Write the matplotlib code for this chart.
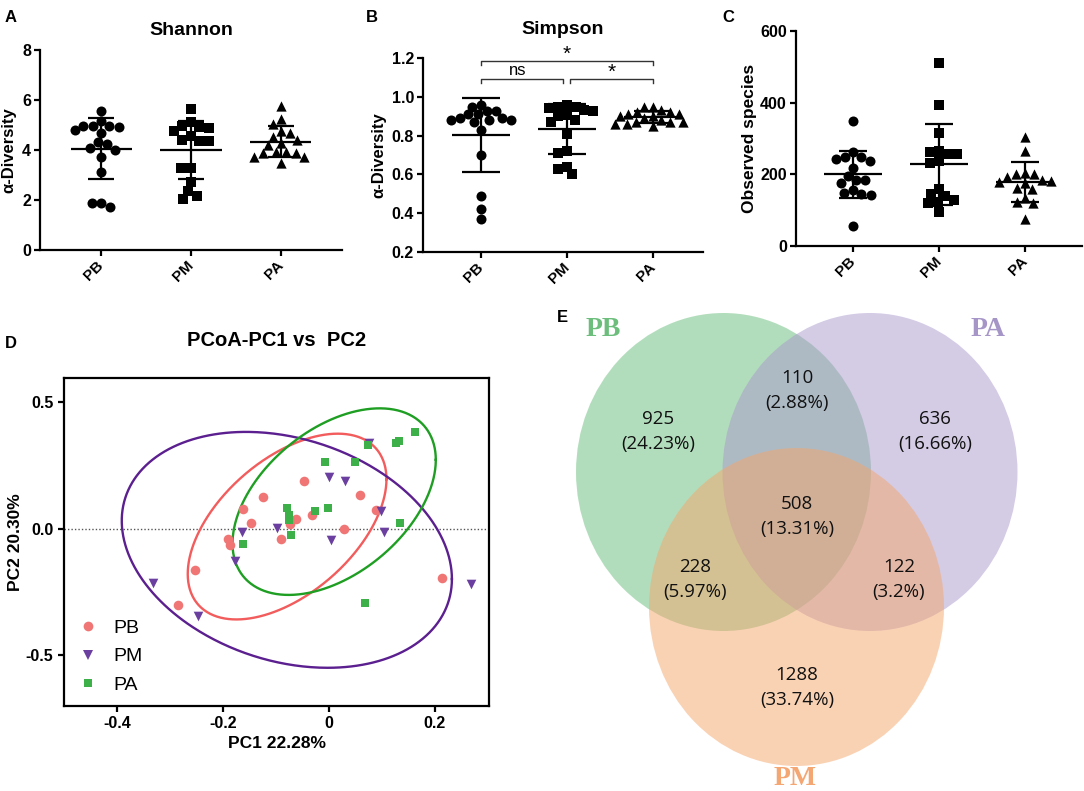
import numpy as np
import matplotlib
matplotlib.use("Agg")
import matplotlib.pyplot as plt
from matplotlib.patches import Ellipse
from matplotlib.lines import Line2D

plt.rcParams['font.family'] = ['Liberation Sans', 'DejaVu Sans']

groups = ["PB", "PM", "PA"]

# ---------------- alpha diversity data ----------------
shannon_pb = [5.56, 5.16, 4.96, 4.96, 4.96, 4.92, 4.80, 4.67, 4.31, 4.23, 4.09, 4.00, 3.73, 3.11, 1.87, 1.73, 1.87]
shannon_pm = [5.64, 4.97, 4.89, 4.93, 5.13, 4.57, 4.77, 4.36, 4.36, 4.40, 3.27, 3.27, 2.73, 2.36, 2.04, 2.17]
shannon_pa = [5.76, 5.24, 5.03, 4.53, 4.67, 4.76, 4.27, 4.40, 4.20, 3.93, 3.87, 3.73, 3.73, 3.87, 3.93, 3.49]

simpson_pb = [0.95, 0.925, 0.91, 0.96, 0.91, 0.925, 0.89, 0.88, 0.88, 0.89, 0.88, 0.83, 0.70, 0.49, 0.42, 0.37, 0.87]
simpson_pm = [0.96, 0.95, 0.95, 0.925, 0.905, 0.93, 0.94, 0.88, 0.87, 0.81, 0.72, 0.71, 0.64, 0.60, 0.63, 0.90]
simpson_pa = [0.95, 0.95, 0.93, 0.92, 0.91, 0.91, 0.90, 0.90, 0.89, 0.88, 0.87, 0.87, 0.87, 0.86, 0.86, 0.85, 0.92]

observed_pb = [349, 249, 242, 237, 249, 261, 196, 184, 184, 217, 177, 156, 144, 142, 149, 57]
observed_pm = [510, 393, 316, 263, 256, 256, 266, 233, 238, 145, 139, 158, 124, 121, 128, 94]
observed_pa = [305, 266, 200, 203, 200, 192, 177, 181, 184, 180, 158, 163, 124, 135, 119, 75]

# significance annotations for Simpson
sig_pairs = [(0, 2), (0, 1), (1, 2)]
sig_labels = ["*", "ns", "*"]

# ---------------- PCoA data ----------------
pb_pc1 = [-0.047, -0.125, -0.162, -0.147, -0.190, -0.186, -0.090, -0.073, -0.063, -0.032, 0.028, 0.058, 0.088, -0.253, -0.284, 0.213]
pb_pc2 = [0.190, 0.124, 0.079, 0.022, -0.041, -0.063, -0.040, 0.018, 0.040, 0.055, 0.000, 0.135, 0.075, -0.162, -0.301, -0.195]
pm_pc1 = [0.076, 0.001, 0.031, 0.098, 0.104, 0.003, -0.098, -0.165, -0.177, -0.332, -0.247, 0.268]
pm_pc2 = [0.339, 0.204, 0.190, 0.071, -0.011, -0.044, 0.003, -0.013, -0.127, -0.215, -0.344, -0.219]
pa_pc1 = [0.162, 0.126, 0.132, 0.074, -0.008, 0.050, -0.002, -0.026, -0.080, -0.075, -0.076, -0.071, -0.163, 0.134, 0.068]
pa_pc2 = [0.381, 0.339, 0.348, 0.332, 0.263, 0.263, 0.082, 0.071, 0.082, 0.055, 0.036, -0.026, -0.059, 0.025, -0.294]

# confidence ellipses (PB, PM, PA): centre, half-extents, correlation-like shape
ell_cx = [-0.079, -0.0795, 0.0098]
ell_cy = [0.009, -0.083, 0.1075]
ell_hx = [0.1875, 0.3115, 0.1918]
ell_hy = [0.367, 0.466, 0.3686]
ell_r = [0.51, -0.247, 0.448]

# ---------------- Venn data ----------------
venn_counts = {"PB": 925, "PA": 636, "PM": 1288, "PB&PA": 110, "PB&PM": 228, "PA&PM": 122, "ALL": 508}
venn_pct = {"PB": "24.23%", "PA": "16.66%", "PM": "33.74%", "PB&PA": "2.88%", "PB&PM": "5.97%", "PA&PM": "3.2%", "ALL": "13.31%"}

W, H = 1084, 791
fig = plt.figure(figsize=(W / 100, H / 100), dpi=100)


def add_ax(l, t, r, b):
    return fig.add_axes([l / W, 1 - b / H, (r - l) / W, (b - t) / H])


def swarm_x(ax, xc, vals, d):
    vals = np.asarray(vals, float)
    ypx = ax.transData.transform(np.c_[np.zeros(len(vals)), vals])[:, 1]
    x0 = ax.transData.transform((0, 0))[0]
    x1 = ax.transData.transform((1, 0))[0]
    ppu = x1 - x0
    order = np.argsort(-vals)
    placed = []
    offs = np.zeros(len(vals))
    for i in order:
        y = ypx[i]
        cands = [0.0]
        for px, py in placed:
            dy = abs(py - y)
            if dy < d:
                dx = np.sqrt(d * d - dy * dy)
                cands += [px + dx, px - dx]
        ok = [c for c in cands if all((c - px) ** 2 + (y - py) ** 2 >= d * d - 1e-6 for px, py in placed)]
        best = min(ok, key=lambda c: (abs(c), c))
        placed.append((best, y))
        offs[i] = best
    return xc + offs / ppu


def dot_panel(ax, data, ylim, yticks, ylabel, cap, ms, xlim, d):
    ax.set_xlim(*xlim)
    ax.set_ylim(*ylim)
    markers = ["o", "s", "^"]
    sizes = [ms, ms * 0.85, ms * 1.05]
    for i, vals in enumerate(data):
        vals = np.asarray(vals, float)
        xs = swarm_x(ax, i, vals, d)
        ax.scatter(xs, vals, marker=markers[i], s=sizes[i], color="black", zorder=3, linewidths=0)
        m = vals.mean()
        sd = vals.std(ddof=1)
        ax.hlines(m, i - 0.34, i + 0.34, color="black", lw=1.6, zorder=2)
        ax.vlines(i, m - sd, m + sd, color="black", lw=1.6, zorder=2)
        ax.hlines([m - sd, m + sd], i - cap, i + cap, color="black", lw=1.6, zorder=2)
    ax.set_yticks(yticks)
    ax.set_xticks(range(3))
    ax.set_xticklabels(groups, rotation=45, ha="right", va="center", rotation_mode="anchor",
                       fontsize=11, fontweight="bold")
    for lab in ax.get_yticklabels():
        lab.set_fontweight("bold")
        lab.set_fontsize(11.5)
    ax.spines["top"].set_visible(False)
    ax.spines["right"].set_visible(False)
    for s in ["left", "bottom"]:
        ax.spines[s].set_linewidth(1.6)
    ax.tick_params(width=1.6, length=4.5, direction="out", pad=2)
    ax.tick_params(axis="x", pad=5)
    ax.set_ylabel(ylabel, fontsize=12, fontweight="bold", labelpad=4)


# Panel A
axA = add_ax(40, 50, 342, 250)
dot_panel(axA, [shannon_pb, shannon_pm, shannon_pa], (0, 8), [0, 2, 4, 6, 8], "α-Diversity",
          0.145, 52, (-0.68, 2.68), 9.6)
axA.set_title("Shannon", fontsize=14, fontweight="bold", pad=11)

# Panel B
axB = add_ax(423, 58, 703, 252)
dot_panel(axB, [simpson_pb, simpson_pm, simpson_pa], (0.2, 1.2), [0.2, 0.4, 0.6, 0.8, 1.0, 1.2], "α-Diversity",
          0.22, 52, (-0.674, 2.58), 9.0)
axB.set_yticklabels(["0.2", "0.4", "0.6", "0.8", "1.0", "1.2"])
for lab in axB.get_yticklabels():
    lab.set_fontweight("bold")
    lab.set_fontsize(11.5)
axB.set_title("Simpson", fontsize=14, fontweight="bold", pad=17)
# brackets
br = [(0.0, 2.0, 1.186), (0.0, 0.957, 1.093), (1.035, 2.0, 1.093)]
for (a, b, y), lab in zip(br, sig_labels):
    axB.plot([a, a, b, b], [y - 0.022, y, y, y - 0.022], color="#333333", lw=1.0, clip_on=False)
    if lab == "ns":
        axB.text((a + b) / 2 - 0.05, y + 0.002, lab, ha="center", va="bottom", fontsize=12, clip_on=False)
    else:
        axB.text((a + b) / 2, y - 0.018, lab, ha="center", va="bottom", fontsize=15, clip_on=False)

# Panel C
axC = add_ax(796, 31, 1082, 246)
dot_panel(axC, [observed_pb, observed_pm, observed_pa], (0, 600), [0, 200, 400, 600], "Observed species",
          0.165, 52, (-0.663, 2.66), 9.3)
axC.set_ylabel("Observed species", fontsize=12.5, fontweight="bold", labelpad=2)

# Panel labels
for txt, x, y in [("A", 5, 17), ("B", 366, 17), ("C", 722, 17), ("D", 5, 343), ("E", 557, 317)]:
    fig.text(x / W, 1 - y / H, txt, fontsize=12, fontweight="bold", ha="left", va="center")

# Panel D
axD = add_ax(64, 378, 489, 706)
axD.set_xlim(-0.5, 0.302)
axD.set_ylim(-0.70, 0.596)
axD.axhline(0, color="#555555", lw=1.0, ls=(0, (1, 1.5)), zorder=1)
pt_cols = ["#F07676", "#6B3FA0", "#3DB049"]
ell_cols = ["#F25C5C", "#5B1F8F", "#1E9E22"]
t = np.linspace(0, 2 * np.pi, 500)
for i in range(3):
    psi = np.arccos(ell_r[i])
    ex = ell_cx[i] + ell_hx[i] * np.cos(t)
    ey = ell_cy[i] + ell_hy[i] * np.cos(t - psi)
    axD.plot(ex, ey, color=ell_cols[i], lw=1.7, zorder=2)
axD.scatter(pb_pc1, pb_pc2, marker="o", s=48, color=pt_cols[0], linewidths=0, zorder=3)
axD.scatter(pm_pc1, pm_pc2, marker="v", s=48, color=pt_cols[1], linewidths=0, zorder=3)
axD.scatter(pa_pc1, pa_pc2, marker="s", s=40, color=pt_cols[2], linewidths=0, zorder=3)
handles = [Line2D([], [], marker="o", ls="", color=pt_cols[0], markersize=7, markeredgewidth=0),
           Line2D([], [], marker="v", ls="", color=pt_cols[1], markersize=7, markeredgewidth=0),
           Line2D([], [], marker="s", ls="", color=pt_cols[2], markersize=6.3, markeredgewidth=0)]
axD.legend(handles, groups, loc="lower left", bbox_to_anchor=(-0.022, -0.022), frameon=False, fontsize=14,
           handletextpad=0.6, labelspacing=0.55, borderpad=0.5, handlelength=1.4)
axD.set_xticks([-0.4, -0.2, 0, 0.2])
axD.set_xticklabels(["-0.4", "-0.2", "0", "0.2"])
axD.set_yticks([-0.5, 0, 0.5])
axD.set_yticklabels(["-0.5", "0.0", "0.5"])
for lab in axD.get_xticklabels() + axD.get_yticklabels():
    lab.set_fontweight("bold")
    lab.set_fontsize(11.5)
for s in axD.spines.values():
    s.set_linewidth(1.6)
axD.tick_params(width=1.6, length=4.5, direction="out", pad=3)
axD.set_xlabel("PC1 22.28%", fontsize=12.5, fontweight="bold", labelpad=3)
axD.set_ylabel("PC2 20.30%", fontsize=12.5, fontweight="bold", labelpad=2)
axD.set_title("PCoA-PC1 vs  PC2", fontsize=14.5, fontweight="bold", pad=23)

# Panel E (Venn)
axE = add_ax(520, 300, 1084, 791)
axE.set_xlim(520, 1084)
axE.set_ylim(791, 300)
axE.axis("off")
circ = {"PB": ((723.5, 472), "#67BD7A"), "PA": ((870, 472), "#AA98CC"), "PM": ((796.5, 607), "#F5A66B")}
for k in ["PB", "PA", "PM"]:
    (cx, cy), col = circ[k]
    axE.add_patch(Ellipse((cx, cy), 295, 318, facecolor=col, alpha=0.5, edgecolor="none"))
label_pos = {"PB": (603, 330, "#6DBE7D"), "PA": (988, 330, "#A696C8"), "PM": (795, 779, "#F4A673")}
for k, (x, y, c) in label_pos.items():
    axE.text(x, y, k, color=c, fontsize=20, fontweight="bold", family="Liberation Serif", ha="center", va="center")
region_pos = {"PB": (658, 432), "PA": (935, 432), "PB&PA": (797, 391), "ALL": (797, 517),
              "PB&PM": (695, 580), "PA&PM": (899, 580), "PM": (797, 688)}
for k, (x, y) in region_pos.items():
    axE.text(x, y, f"{venn_counts[k]}\n({venn_pct[k]})", ha="center", va="center", fontsize=13.5,
             family="Open Sans", linespacing=1.5, color="#111111")

fig.savefig("out.png", dpi=100)
